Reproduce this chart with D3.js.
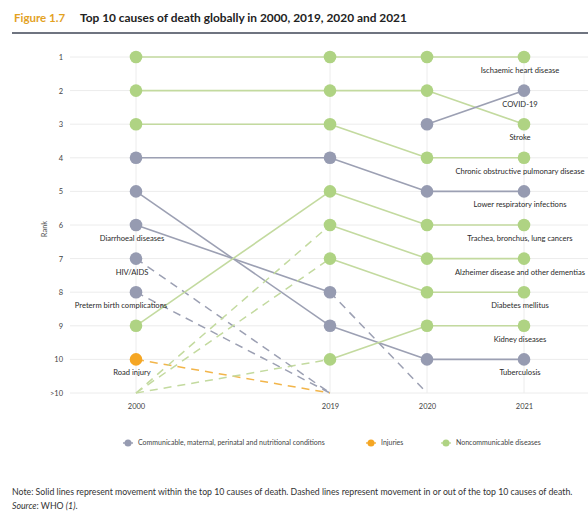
<!DOCTYPE html>
<html>
<head>
<meta charset="utf-8">
<script src="https://cdn.jsdelivr.net/npm/d3@7"></script>
<style>
  body { margin: 0; background: #fff; }
  text { font-family: Lato, "Open Sans", sans-serif; fill: #333; }
</style>
</head>
<body>
<div id="chart"></div>
<script>
// Data
const years = ['2000', '2019', '2020', '2021'];
const rankLabels = ['1', '2', '3', '4', '5', '6', '7', '8', '9', '10', '>10'];
const groups = ['Communicable, maternal, perinatal and nutritional conditions', 'Injuries', 'Noncommunicable diseases'];

// rank per year (11 = outside top 10, null = not shown)
const causes = ['Ischaemic heart disease', 'Stroke', 'Chronic obstructive pulmonary disease',
  'Lower respiratory infections', 'Tuberculosis', 'Diarrhoeal diseases', 'HIV/AIDS',
  'Preterm birth complications', 'Trachea, bronchus, lung cancers', 'Road injury',
  'Alzheimer disease and other dementias', 'Diabetes mellitus', 'Kidney diseases', 'COVID-19'];
const causeGroup = [2, 2, 2, 0, 0, 0, 0, 0, 2, 1, 2, 2, 2, 0];
const ranks = [
  [1, 1, 1, 1],
  [2, 2, 2, 3],
  [3, 3, 4, 4],
  [4, 4, 5, 5],
  [5, 9, 10, 10],
  [6, 8, 11, null],
  [7, 11, null, null],
  [8, 11, null, null],
  [9, 5, 6, 6],
  [10, 11, null, null],
  [11, 6, 7, 7],
  [11, 7, 8, 8],
  [11, 10, 9, 9],
  [null, null, 3, 2]
];
// year where each cause gets its name
const labelYear = ['2021', '2021', '2021', '2021', '2021', '2000', '2000',
  '2000', '2021', '2000', '2021', '2021', '2021', '2021'];

const markerColor = ['#969bb1', '#f5a623', '#afd383'];
const lineColor = ['#9ca0b3', '#f2b54a', '#c3da9f'];

const W = 588, H = 516;
const svg = d3.select('#chart').append('svg')
  .attr('width', W)
  .attr('height', H);

// Title
svg.append('text')
  .attr('x', 14).attr('y', 22)
  .attr('font-size', 11.5).attr('font-weight', 700)
  .style('fill', '#e3a21f')
  .text('Figure 1.7');
svg.append('text')
  .attr('x', 80).attr('y', 22)
  .attr('font-size', 11.9).attr('font-weight', 700)
  .style('fill', '#222')
  .text('Top 10 causes of death globally in 2000, 2019, 2020 and 2021');
svg.append('line')
  .attr('x1', 12).attr('x2', W)
  .attr('y1', 33).attr('y2', 33)
  .attr('stroke', '#3f4656').attr('stroke-width', 1.5);

// Scales (2000 sits two slots before 2019)
const x = d3.scalePoint()
  .domain(['2000', 'gap', '2019', '2020', '2021'])
  .range([136, 524]);
const y = d3.scalePoint()
  .domain(rankLabels)
  .range([57, 393]);
const yr = r => y(rankLabels[r - 1]);

// Grid
const grid = svg.append('g');
grid.selectAll('.hgrid')
  .data(rankLabels)
  .enter().append('line')
  .attr('x1', 70).attr('x2', W)
  .attr('y1', d => y(d)).attr('y2', d => y(d))
  .attr('stroke', '#ececec').attr('stroke-width', 1);
grid.selectAll('.vgrid')
  .data(years)
  .enter().append('line')
  .attr('x1', d => x(d)).attr('x2', d => x(d))
  .attr('y1', y('1')).attr('y2', y('>10'))
  .attr('stroke', '#ececec').attr('stroke-width', 1);

// Axes
const leftAxis = d3.axisLeft(y).tickSize(0).tickPadding(0);
const yAxis = svg.append('g')
  .attr('transform', 'translate(63,0)')
  .call(leftAxis);
yAxis.select('.domain').remove();
yAxis.selectAll('text')
  .attr('font-family', 'Lato, sans-serif')
  .attr('font-size', 7.5).style('fill', '#444');

const bottomAxis = d3.axisBottom(x).tickValues(years).tickSize(0).tickPadding(0);
const xAxis = svg.append('g')
  .attr('transform', 'translate(0,404)')
  .call(bottomAxis);
xAxis.select('.domain').remove();
xAxis.selectAll('text')
  .attr('font-family', 'Lato, sans-serif')
  .attr('font-size', 7.5).style('fill', '#444');

svg.append('text')
  .attr('transform', 'translate(47,229) rotate(-90)')
  .attr('text-anchor', 'middle')
  .attr('font-size', 7.5).style('fill', '#555')
  .text('Rank');

// Segments
const segments = [];
causes.forEach((c, i) => {
  for (let k = 0; k < years.length - 1; k++) {
    const a = ranks[i][k], b = ranks[i][k + 1];
    if (a == null || b == null) continue;
    segments.push({
      g: causeGroup[i],
      x1: x(years[k]), y1: yr(a),
      x2: x(years[k + 1]), y2: yr(b),
      dashed: a > 10 || b > 10
    });
  }
});

svg.append('g').selectAll('line')
  .data(segments)
  .enter().append('line')
  .attr('x1', d => d.x1).attr('y1', d => d.y1)
  .attr('x2', d => d.x2).attr('y2', d => d.y2)
  .attr('stroke', d => lineColor[d.g])
  .attr('stroke-width', d => d.dashed ? 1.5 : 1.6)
  .attr('stroke-dasharray', d => d.dashed ? '8,6' : null);

// Markers
const points = [];
causes.forEach((c, i) => {
  years.forEach((yrName, k) => {
    const r = ranks[i][k];
    if (r != null && r <= 10) points.push({ g: causeGroup[i], cx: x(yrName), cy: yr(r) });
  });
});
svg.append('g').selectAll('circle')
  .data(points)
  .enter().append('circle')
  .attr('cx', d => d.cx).attr('cy', d => d.cy)
  .attr('r', 6.3)
  .attr('fill', d => markerColor[d.g]);

// Cause labels under their marker
svg.append('g').selectAll('text')
  .data(causes)
  .enter().append('text')
  .attr('x', (d, i) => x(labelYear[i]) - (d === 'Preterm birth complications' ? 15 : 4))
  .attr('y', (d, i) => yr(ranks[i][years.indexOf(labelYear[i])]) + 16)
  .attr('text-anchor', 'middle')
  .attr('font-size', 7.6)
  .style('fill', '#2a2a2a')
  .text(d => d);

// Legend
const legendX = [128, 371, 446];
const legend = svg.append('g').selectAll('g')
  .data(groups)
  .enter().append('g')
  .attr('transform', (d, i) => `translate(${legendX[i]},443)`);
legend.append('line')
  .attr('x1', -5).attr('x2', 5)
  .attr('stroke', (d, i) => lineColor[i]).attr('stroke-width', 1.5);
legend.append('circle')
  .attr('r', 3.5)
  .attr('fill', (d, i) => markerColor[i]);
legend.append('text')
  .attr('x', 10).attr('y', 2.4)
  .attr('font-size', 7).style('fill', '#444')
  .text(d => d);

// Footer
svg.append('text')
  .attr('x', 12).attr('y', 495)
  .attr('font-size', 8.75).style('fill', '#333')
  .text('Note: Solid lines represent movement within the top 10 causes of death. Dashed lines represent movement in or out of the top 10 causes of death.');
const src = svg.append('text')
  .attr('x', 12).attr('y', 509)
  .attr('font-size', 8.75).style('fill', '#333');
src.append('tspan').attr('font-style', 'italic').text('Source');
src.append('tspan').text(': WHO ');
src.append('tspan').attr('font-style', 'italic').text('(1)');
src.append('tspan').text('.');
</script>
</body>
</html>
